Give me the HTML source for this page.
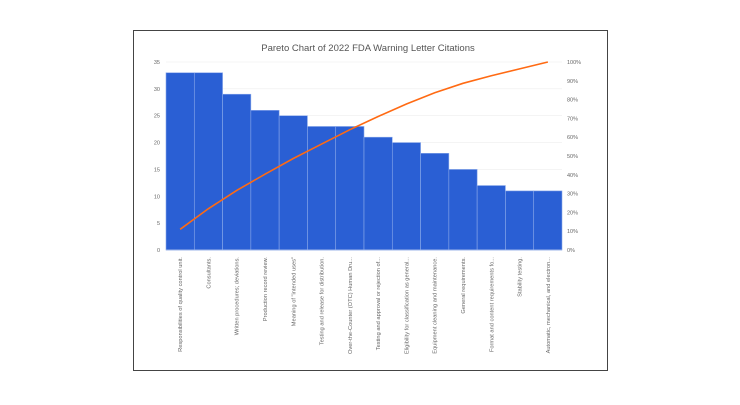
<!DOCTYPE html>
<html><head><meta charset="utf-8"><style>
body{margin:0;background:#fff;width:740px;height:400px;overflow:hidden}
svg text{font-family:"Liberation Sans",sans-serif;fill:#666}
</style></head><body>
<svg width="740" height="400" xmlns="http://www.w3.org/2000/svg">
<rect x="133.5" y="30.5" width="474" height="340" fill="#fff" stroke="#444" stroke-width="1"/>
<text x="368" y="51" text-anchor="middle" font-size="9.5" style="fill:#555">Pareto Chart of 2022 FDA Warning Letter Citations</text>
<g id="g"></g>
<script>
var g=document.getElementById('g'),ns='http://www.w3.org/2000/svg';
function el(t,a,txt){var e=document.createElementNS(ns,t);for(var k in a)e.setAttribute(k,a[k]);if(txt!=null)e.textContent=txt;g.appendChild(e);return e;}
var x0=166,x1=562,yb=250,yt=62,H=yb-yt;
for(var i=0;i<=7;i++){var y=yb-i*H/7;el('line',{x1:x0,x2:x1,y1:y,y2:y,stroke:'#eee','stroke-width':0.6});
el('text',{x:160,y:y+2,'text-anchor':'end','font-size':5.5},String(i*5));}
for(var i=0;i<=10;i++){var y=yb-i*H/10;el('text',{x:567,y:y+2,'font-size':5.5},(i*10)+'%');}
var v=[33,33,29,26,25,23,23,21,20,18,15,12,11,11];
var lab=["Responsibilities of quality control unit.","Consultants.","Written procedures; deviations.","Production record review.","Meaning of \"intended uses\"","Testing and release for distribution.","Over-the-Counter (OTC) Human Dru...","Testing and approval or rejection of...","Eligibility for classification as general...","Equipment cleaning and maintenance.","General requirements.","Format and content requirements fo...","Stability testing.","Automatic, mechanical, and electron..."];
var w=(x1-x0)/14,cum=0,pts=[];
for(var i=0;i<14;i++){var h=v[i]*H/35,x=x0+i*w;
el('rect',{x:x,y:yb-h,width:w,height:h,fill:'#2a5fd4',stroke:'#8aa8ea','stroke-width':0.6});
cum+=v[i];pts.push((x+w/2)+','+(yb-cum/300*H));
var cx=x+w/2+2;el('text',{x:cx,y:257,'font-size':5.7,'text-anchor':'end',transform:'rotate(-90 '+cx+' 257)'},lab[i]);}
el('line',{x1:x0,x2:x1,y1:yb,y2:yb,stroke:'#9db5ea','stroke-width':1});
el('polyline',{points:pts.join(' '),fill:'none',stroke:'#ff6a13','stroke-width':1.6});
</script>
</svg>
</body></html>
